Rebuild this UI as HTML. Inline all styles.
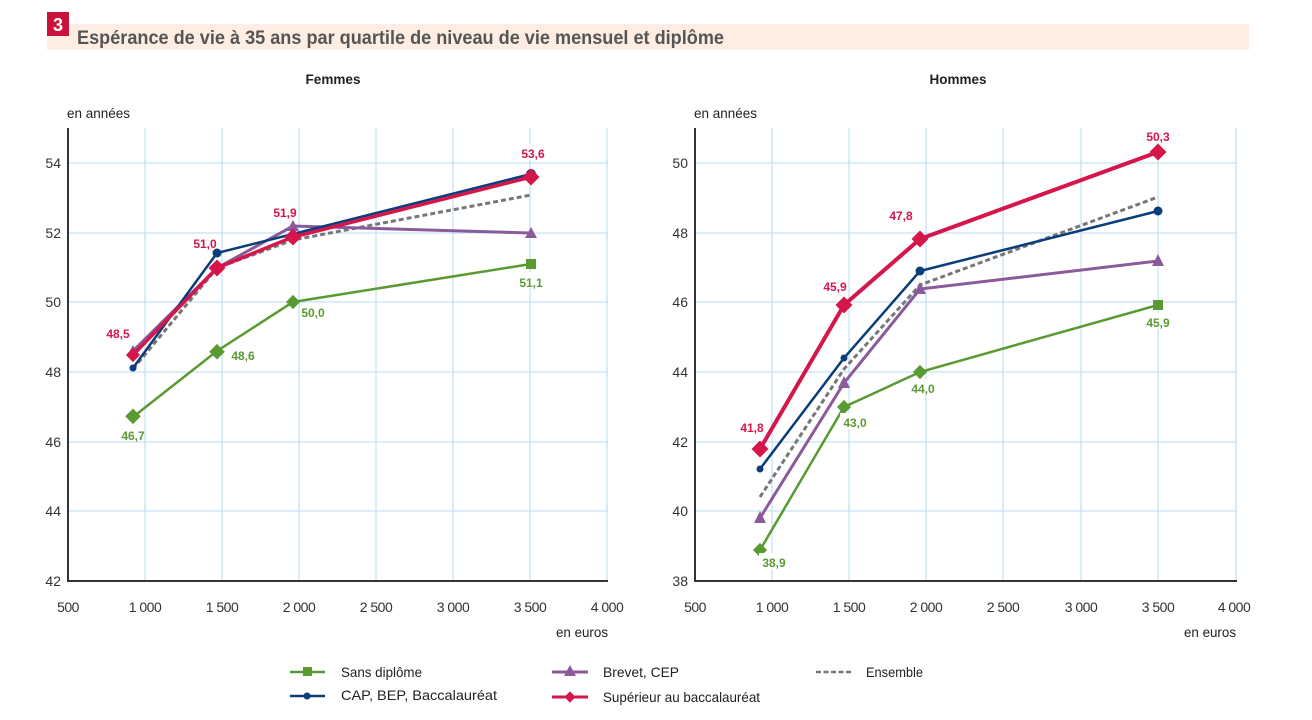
<!DOCTYPE html>
<html><head><meta charset="utf-8"><style>
body{margin:0;background:#fff;}
svg{display:block;font-family:"Liberation Sans",sans-serif;}
</style></head><body>
<svg width="1312" height="720" viewBox="0 0 1312 720">
<rect x="47" y="24" width="1202" height="26" fill="#fdede2"/>
<rect x="47" y="12" width="22" height="24" fill="#c8143c"/>
<text x="58" y="31" font-size="18" font-weight="bold" fill="#fff" text-anchor="middle">3</text>
<text x="77" y="44" font-size="19" font-weight="bold" fill="#555" textLength="647" lengthAdjust="spacingAndGlyphs">Espérance de vie à 35 ans par quartile de niveau de vie mensuel et diplôme</text>
<text x="333" y="84" font-size="14" font-weight="bold" fill="#222" text-anchor="middle" textLength="55" lengthAdjust="spacingAndGlyphs">Femmes</text>
<text x="958" y="84" font-size="14" font-weight="bold" fill="#222" text-anchor="middle" textLength="57" lengthAdjust="spacingAndGlyphs">Hommes</text>
<text x="67" y="118" font-size="14" fill="#222" textLength="63" lengthAdjust="spacingAndGlyphs">en années</text>
<text x="694" y="118" font-size="14" fill="#222" textLength="63" lengthAdjust="spacingAndGlyphs">en années</text>
<text x="608" y="637" font-size="14" fill="#222" text-anchor="end" textLength="52" lengthAdjust="spacingAndGlyphs">en euros</text>
<text x="1236" y="637" font-size="14" fill="#222" text-anchor="end" textLength="52" lengthAdjust="spacingAndGlyphs">en euros</text>

<g stroke="#c5e2f5" stroke-width="1.3">
<line x1="145" y1="128" x2="145" y2="581"/><line x1="222" y1="128" x2="222" y2="581"/><line x1="299" y1="128" x2="299" y2="581"/><line x1="376" y1="128" x2="376" y2="581"/><line x1="453" y1="128" x2="453" y2="581"/><line x1="530" y1="128" x2="530" y2="581"/><line x1="607" y1="128" x2="607" y2="581"/>
<line x1="68" y1="163" x2="608" y2="163"/><line x1="68" y1="233" x2="608" y2="233"/><line x1="68" y1="302" x2="608" y2="302"/><line x1="68" y1="372" x2="608" y2="372"/><line x1="68" y1="442" x2="608" y2="442"/><line x1="68" y1="511" x2="608" y2="511"/>
<line x1="772" y1="128" x2="772" y2="581"/><line x1="849" y1="128" x2="849" y2="581"/><line x1="926" y1="128" x2="926" y2="581"/><line x1="1003" y1="128" x2="1003" y2="581"/><line x1="1081" y1="128" x2="1081" y2="581"/><line x1="1158" y1="128" x2="1158" y2="581"/><line x1="1236" y1="128" x2="1236" y2="581"/>
<line x1="695" y1="163" x2="1237" y2="163"/><line x1="695" y1="233" x2="1237" y2="233"/><line x1="695" y1="302" x2="1237" y2="302"/><line x1="695" y1="372" x2="1237" y2="372"/><line x1="695" y1="442" x2="1237" y2="442"/><line x1="695" y1="511" x2="1237" y2="511"/>
</g>
<g stroke="#333" stroke-width="2" fill="none">
<polyline points="68,128 68,581 608,581"/>
<polyline points="695,128 695,581 1237,581"/>
</g>
<g font-size="14" fill="#333" text-anchor="end">
<text x="61" y="168">54</text><text x="61" y="238">52</text><text x="61" y="307">50</text><text x="61" y="377">48</text><text x="61" y="447">46</text><text x="61" y="516">44</text><text x="61" y="586">42</text>
<text x="688" y="168">50</text><text x="688" y="238">48</text><text x="688" y="307">46</text><text x="688" y="377">44</text><text x="688" y="447">42</text><text x="688" y="516">40</text><text x="688" y="586">38</text>
</g>
<g font-size="14" fill="#333" text-anchor="middle" letter-spacing="-0.5">
<text x="68" y="612">500</text><text x="145" y="612">1 000</text><text x="222" y="612">1 500</text><text x="299" y="612">2 000</text><text x="376" y="612">2 500</text><text x="453" y="612">3 000</text><text x="530" y="612">3 500</text><text x="607" y="612">4 000</text>
<text x="695" y="612">500</text><text x="772" y="612">1 000</text><text x="849" y="612">1 500</text><text x="926" y="612">2 000</text><text x="1003" y="612">2 500</text><text x="1081" y="612">3 000</text><text x="1158" y="612">3 500</text><text x="1234" y="612">4 000</text>
</g>

<polyline points="133,417 217,351 293,302 531,264" fill="none" stroke="#5a9a32" stroke-width="2.5"/>
<g fill="#5a9a32"><rect x="127" y="411" width="11" height="11" transform="rotate(45 133 417)"/><rect x="212" y="346" width="11" height="11" transform="rotate(45 217 351)"/><rect x="288" y="297" width="10" height="10" transform="rotate(45 293 302)"/><rect x="526" y="259" width="10" height="10"/></g>
<polyline points="133,369 217,268 293,240 531,195" fill="none" stroke="#777" stroke-width="3" stroke-dasharray="5,3"/>
<polyline points="133,351 217,268 293,226 531,233" fill="none" stroke="#8a5a9a" stroke-width="3"/>
<g fill="#8a5a9a"><polygon points="133,345 127,356 139,356"/><polygon points="293,220 287,231 299,231"/><polygon points="531,227 525,238 537,238"/></g>
<polyline points="133,368 217,253 293,234 531,174" fill="none" stroke="#0a3d7a" stroke-width="2.5"/>
<g fill="#0a3d7a"><circle cx="133" cy="368" r="3.5"/><circle cx="217" cy="253" r="4.5"/><circle cx="531" cy="174" r="5"/></g>
<polyline points="133,355 217,268 293,237 531,177" fill="none" stroke="#d4164a" stroke-width="3.5"/>
<g fill="#d4164a"><rect x="128" y="350" width="10" height="10" transform="rotate(45 133 355)"/><rect x="211" y="262" width="12" height="12" transform="rotate(45 217 268)"/><rect x="287" y="231" width="12" height="12" transform="rotate(45 293 237)"/><rect x="525" y="171" width="12" height="12" transform="rotate(45 531 177)"/></g>

<polyline points="760,550 844,407 920,372 1158,305" fill="none" stroke="#5a9a32" stroke-width="2.5"/>
<g fill="#5a9a32"><rect x="755" y="545" width="10" height="10" transform="rotate(45 760 550)"/><rect x="839" y="402" width="10" height="10" transform="rotate(45 844 407)"/><rect x="915" y="367" width="10" height="10" transform="rotate(45 920 372)"/><rect x="1153" y="300" width="10" height="10"/></g>
<polyline points="760,497 844,369 920,285 1158,197" fill="none" stroke="#777" stroke-width="3" stroke-dasharray="5,3"/>
<polyline points="760,518 844,383 920,289 1158,261" fill="none" stroke="#8a5a9a" stroke-width="3"/>
<g fill="#8a5a9a"><polygon points="760,511 754,523 766,523"/><polygon points="844,376 838,388 850,388"/><polygon points="920,282 914,294 926,294"/><polygon points="1158,254 1152,266 1164,266"/></g>
<polyline points="760,469 844,358 920,271 1158,211" fill="none" stroke="#0a3d7a" stroke-width="2.5"/>
<g fill="#0a3d7a"><circle cx="760" cy="469" r="3.5"/><circle cx="844" cy="358" r="3.5"/><circle cx="920" cy="271" r="4.5"/><circle cx="1158" cy="211" r="4.5"/></g>
<polyline points="760,449 844,305 920,239 1158,152" fill="none" stroke="#d4164a" stroke-width="4"/>
<g fill="#d4164a"><rect x="754" y="443" width="12" height="12" transform="rotate(45 760 449)"/><rect x="838" y="299" width="12" height="12" transform="rotate(45 844 305)"/><rect x="914" y="233" width="12" height="12" transform="rotate(45 920 239)"/><rect x="1152" y="146" width="12" height="12" transform="rotate(45 1158 152)"/></g>

<g font-size="12" font-weight="bold" text-anchor="middle">
<g fill="#fff"><rect x="517" y="144" width="30" height="16"/><rect x="516" y="272" width="30" height="16"/><rect x="1143" y="127" width="30" height="16"/><rect x="1143" y="313" width="30" height="16"/><rect x="909" y="379" width="30" height="16"/><rect x="840" y="413" width="30" height="16"/><rect x="759" y="553" width="30" height="16"/></g>
<g fill="#d4164a"><text x="118" y="338">48,5</text><text x="205" y="248">51,0</text><text x="285" y="217">51,9</text><text x="533" y="158">53,6</text><text x="752" y="432">41,8</text><text x="835" y="291">45,9</text><text x="901" y="220">47,8</text><text x="1158" y="141">50,3</text></g>
<g fill="#5a9a32"><text x="133" y="440">46,7</text><text x="243" y="360">48,6</text><text x="313" y="317">50,0</text><text x="531" y="287">51,1</text><text x="774" y="567">38,9</text><text x="855" y="427">43,0</text><text x="923" y="393">44,0</text><text x="1158" y="327">45,9</text></g>
</g>

<g stroke-width="2.5">
<line x1="290" y1="672" x2="325" y2="672" stroke="#5a9a32"/><rect x="303" y="667" width="9" height="9" fill="#5a9a32"/>
<line x1="290" y1="696" x2="325" y2="696" stroke="#0a3d7a"/><circle cx="307" cy="696" r="3.5" fill="#0a3d7a"/>
<line x1="552" y1="672" x2="588" y2="672" stroke="#8a5a9a" stroke-width="3"/><polygon points="570,665 564,676 576,676" fill="#8a5a9a"/>
<line x1="552" y1="697" x2="588" y2="697" stroke="#d4164a" stroke-width="3"/><rect x="566" y="693" width="8" height="8" fill="#d4164a" transform="rotate(45 570 697)"/>
<line x1="816" y1="672" x2="851" y2="672" stroke="#777" stroke-dasharray="5,2.5"/>
</g>
<g font-size="14" fill="#222">
<text x="341" y="677" textLength="81" lengthAdjust="spacingAndGlyphs">Sans diplôme</text>
<text x="341" y="700" textLength="156" lengthAdjust="spacingAndGlyphs">CAP, BEP, Baccalauréat</text>
<text x="603" y="677" textLength="76" lengthAdjust="spacingAndGlyphs">Brevet, CEP</text>
<text x="603" y="702" textLength="157" lengthAdjust="spacingAndGlyphs">Supérieur au baccalauréat</text>
<text x="866" y="677" textLength="57" lengthAdjust="spacingAndGlyphs">Ensemble</text>
</g>
</svg>
</body></html>
